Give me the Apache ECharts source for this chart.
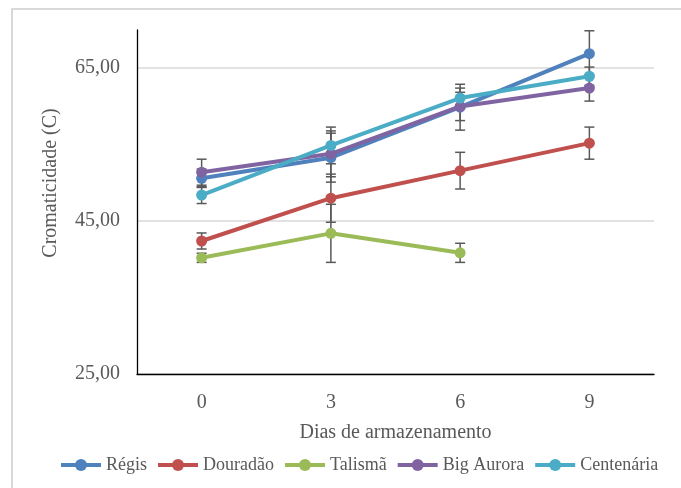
<!DOCTYPE html>
<html lang="pt">
<head>
    <meta charset="UTF-8">
    <title>Cromaticidade</title>
    <script src="https://cdn.jsdelivr.net/npm/echarts@6/dist/echarts.min.js"></script>
    <style>
        html, body { margin: 0; padding: 0; background: #fff; }
        #chart { width: 681px; height: 488px; }
    </style>
</head>
<body>
<div id="chart"></div>
<script>
    // dias de armazenamento
    const days = ['0', '3', '6', '9'];

    // médias e desvios
    const regis = [50.6, 53.3, 59.9, 66.9];
    const regisErr = [1.2, 3.2, 3.0, 3.0];
    const douradao = [42.4, 48.0, 51.6, 55.2];
    const douradaoErr = [1.05, 3.15, 2.4, 2.1];
    const talisma = [40.2, 43.4, 40.85, null];
    const talismaErr = [0.6, 3.8, 1.25, null];
    const bigAurora = [51.4, 53.8, 60.0, 62.4];
    const bigAuroraErr = [1.7, 3.0, 1.85, 1.7];
    const centenaria = [48.4, 54.9, 61.1, 63.95];
    const centenariaErr = [1.1, 2.4, 1.3, 1.2];

    const yTicks = [25, 45, 65];

    const font = '"Liberation Serif", "Times New Roman", serif';
    const textColor = '#595959';

    const cultivares = [
        { name: 'Régis', data: regis, err: regisErr, color: '#4F81BD' },
        { name: 'Douradão', data: douradao, err: douradaoErr, color: '#C0504D' },
        { name: 'Talismã', data: talisma, err: talismaErr, color: '#9BBB59' },
        { name: 'Big Aurora', data: bigAurora, err: bigAuroraErr, color: '#8064A2' },
        { name: 'Centenária', data: centenaria, err: centenariaErr, color: '#4BACC6' }
    ];

    // barras de erro (desenhadas por baixo das linhas)
    function errorSeries(c) {
        const data = [];
        c.data.forEach((v, i) => {
            if (v != null) data.push([i, v - c.err[i], v + c.err[i]]);
        });
        return {
            type: 'custom',
            name: 'erro ' + c.name,
            z: 1,
            silent: true,
            renderItem: function (params, api) {
                const x = api.value(0);
                const lo = api.coord([x, api.value(1)]);
                const hi = api.coord([x, api.value(2)]);
                const w = 5;
                const style = { stroke: '#595959', lineWidth: 1.5 };
                return {
                    type: 'group',
                    children: [
                        { type: 'line', shape: { x1: hi[0], y1: hi[1], x2: lo[0], y2: lo[1] }, style },
                        { type: 'line', shape: { x1: hi[0] - w, y1: hi[1], x2: hi[0] + w, y2: hi[1] }, style },
                        { type: 'line', shape: { x1: lo[0] - w, y1: lo[1], x2: lo[0] + w, y2: lo[1] }, style }
                    ]
                };
            },
            data
        };
    }

    const lineSeries = cultivares.map(c => ({
        type: 'line',
        name: c.name,
        z: 3,
        data: c.data,
        symbol: 'circle',
        symbolSize: 11,
        connectNulls: false,
        lineStyle: { width: 4, color: c.color },
        itemStyle: { color: c.color },
        emphasis: { disabled: true }
    }));

    let chart = echarts.init(document.getElementById('chart'));

    chart.setOption({
        backgroundColor: '#fff',
        animation: false,
        graphic: [
            {
                type: 'rect',
                shape: { x: 12, y: 9, width: 700, height: 500 },
                style: { fill: 'none', stroke: '#d9d9d9', lineWidth: 2 },
                silent: true
            },
            {
                type: 'text',
                x: 51,
                y: 183,
                rotation: Math.PI / 2,
                style: {
                    text: 'Cromaticidade (C)',
                    font: '20px ' + font,
                    fill: textColor,
                    align: 'center',
                    verticalAlign: 'middle'
                },
                silent: true
            }
        ],
        grid: { left: 137, right: 27, top: 30, bottom: 114 },
        legend: {
            data: cultivares.map(c => c.name),
            left: 54,
            top: 451,
            itemWidth: 40,
            itemHeight: 15,
            itemGap: 9,
            lineStyle: { width: 4 },
            textStyle: { fontFamily: font, fontSize: 18, color: textColor }
        },
        xAxis: {
            type: 'category',
            data: days,
            boundaryGap: true,
            axisLine: { lineStyle: { color: '#000', width: 1.3 } },
            axisTick: { show: false },
            axisLabel: { fontFamily: font, fontSize: 20, color: textColor, margin: 19 },
            name: 'Dias de armazenamento',
            nameLocation: 'middle',
            nameGap: 49,
            nameTextStyle: { fontFamily: font, fontSize: 20, color: textColor }
        },
        yAxis: {
            type: 'value',
            min: yTicks[0],
            max: 70,
            interval: yTicks[1] - yTicks[0],
            axisLine: { show: true, lineStyle: { color: '#000', width: 1.3 } },
            axisTick: { show: false },
            axisLabel: {
                fontFamily: font,
                fontSize: 20,
                color: textColor,
                margin: 17,
                showMaxLabel: false,
                formatter: v => yTicks.includes(v) ? v.toFixed(2).replace('.', ',') : ''
            },
            splitLine: {
                lineStyle: { color: ['#d9d9d9', '#d9d9d9', '#d9d9d9', 'rgba(0,0,0,0)'], width: 1.5 }
            }
        },
        series: cultivares.map(errorSeries).concat(lineSeries)
    });
</script>
</body>
</html>
